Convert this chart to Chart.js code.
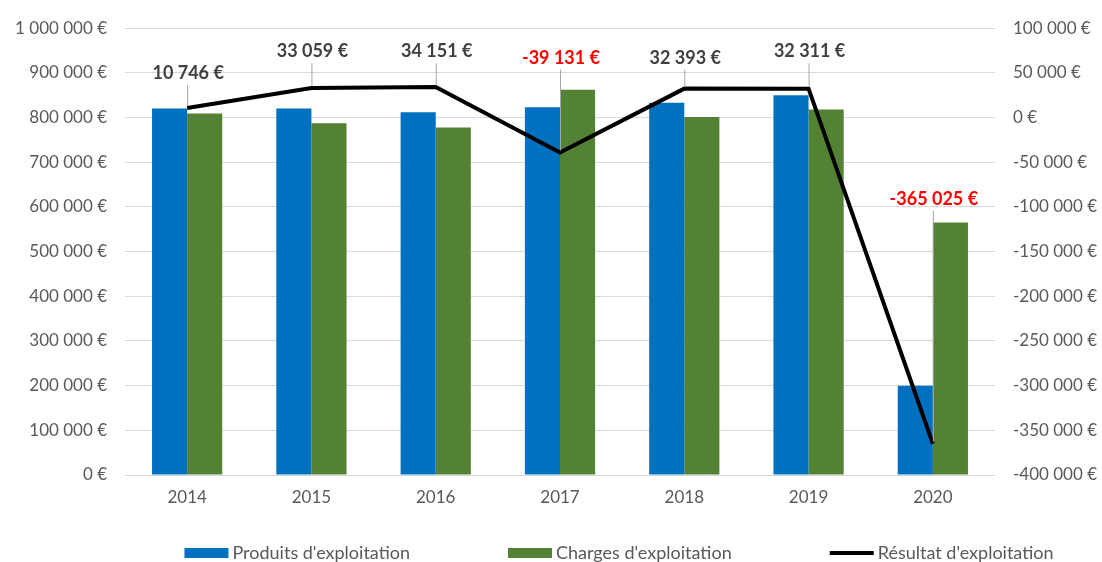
<!DOCTYPE html>
<html>
<head>
<meta charset="utf-8">
<script src="https://cdn.jsdelivr.net/npm/chart.js@4"></script>
<style>
  html, body { margin: 0; padding: 0; background: #fff; }
  #wrap { width: 1102px; height: 562px; }
</style>
</head>
<body>
<div id="wrap"><canvas id="chart" width="1102" height="562"></canvas></div>
<script>
// Data
const years = ["2014", "2015", "2016", "2017", "2018", "2019", "2020"];
const produits = [820000, 820000, 812000, 823000, 833000, 850000, 200000];
const charges = [809000, 787000, 778000, 862000, 801000, 818000, 565000];
const resultat = [10746, 33059, 34151, -39131, 32393, 32311, -365025];
// where each value label sits, in right-axis units
const labelAnchor = [50000, 74000, 74000, 67000, 67000, 74000, -91000];

const FONT = "Lato, 'Liberation Sans', sans-serif";

function euro(v) {
  const s = Math.round(v).toString().replace(/\B(?=(\d{3})+(?!\d))/g, " ");
  return s + " €";
}

// Value labels with leader lines for the result line
const resultLabels = {
  id: "resultLabels",
  afterDatasetsDraw(chart) {
    const ctx = chart.ctx;
    const meta = chart.getDatasetMeta(2);
    const y1 = chart.scales.y1;
    ctx.save();
    ctx.font = "bold 18px " + FONT;
    ctx.textAlign = "center";
    ctx.textBaseline = "middle";
    meta.data.forEach((pt, i) => {
      const ly = y1.getPixelForValue(labelAnchor[i]);
      // leader line
      ctx.strokeStyle = "#a6a6a6";
      ctx.lineWidth = 1;
      ctx.beginPath();
      ctx.moveTo(pt.x + 0.5, ly + 12);
      ctx.lineTo(pt.x + 0.5, pt.y - 2);
      ctx.stroke();
      ctx.fillStyle = resultat[i] < 0 ? "#ff0000" : "#404040";
      ctx.fillText(euro(resultat[i]), pt.x + 1, ly);
    });
    ctx.restore();
  }
};

// Legend spread across the bottom like the spreadsheet one
const bottomLegend = {
  id: "bottomLegend",
  afterDraw(chart) {
    const ctx = chart.ctx;
    const ds = chart.data.datasets;
    const y = 553;
    const gap = 98;
    ctx.save();
    ctx.font = "18px " + FONT;
    ctx.textBaseline = "middle";
    ctx.textAlign = "left";
    const widths = ds.map(d => 44 + 4 + ctx.measureText(d.label).width);
    const total = widths.reduce((a, b) => a + b, 0) + gap * (ds.length - 1);
    let x = 619 - total / 2;
    ds.forEach((d, i) => {
      if (d.type === "line") {
        ctx.strokeStyle = d.borderColor;
        ctx.lineWidth = 4;
        ctx.beginPath();
        ctx.moveTo(x, y);
        ctx.lineTo(x + 44, y);
        ctx.stroke();
      } else {
        ctx.fillStyle = d.backgroundColor;
        ctx.fillRect(x, y - 5, 44, 10);
      }
      ctx.fillStyle = "#595959";
      ctx.fillText(d.label, x + 48, y);
      x += widths[i] + gap;
    });
    ctx.restore();
  }
};

new Chart(document.getElementById("chart"), {
  type: "bar",
  data: {
    labels: years,
    datasets: [
      {
        label: "Produits d'exploitation",
        data: produits,
        backgroundColor: "#0070c0",
        yAxisID: "y",
        order: 1,
        categoryPercentage: 0.565,
        barPercentage: 1
      },
      {
        label: "Charges d'exploitation",
        data: charges,
        backgroundColor: "#548235",
        yAxisID: "y",
        order: 1,
        categoryPercentage: 0.565,
        barPercentage: 1
      },
      {
        type: "line",
        label: "Résultat d'exploitation",
        data: resultat,
        borderColor: "#000000",
        backgroundColor: "#000000",
        borderWidth: 4,
        pointRadius: 0,
        tension: 0,
        yAxisID: "y1",
        order: 0
      }
    ]
  },
  options: {
    responsive: false,
    animation: false,
    layout: { padding: { top: 14, left: 0, right: 0, bottom: 47 } },
    plugins: {
      tooltip: { enabled: false },
      legend: { display: false }
    },
    scales: {
      x: {
        grid: { display: false },
        border: { display: false },
        ticks: { color: "#595959", font: { family: FONT, size: 17 }, padding: 4 },
        afterFit(scale) { scale.height = 40; }
      },
      y: {
        position: "left",
        min: 0,
        max: 1000000,
        ticks: {
          stepSize: 100000,
          color: "#595959",
          font: { family: FONT, size: 17 },
          padding: 18,
          callback: v => euro(v)
        },
        grid: { color: "#d9d9d9", lineWidth: 1, drawTicks: false },
        border: { display: false },
        afterFit(scale) { scale.width = 125; }
      },
      y1: {
        position: "right",
        min: -400000,
        max: 100000,
        ticks: {
          stepSize: 50000,
          color: "#595959",
          font: { family: FONT, size: 17 },
          padding: 18,
          callback: v => euro(v)
        },
        grid: { display: false, drawTicks: false },
        border: { display: false },
        afterFit(scale) { scale.width = 107; }
      }
    }
  },
  plugins: [resultLabels, bottomLegend]
});
</script>
</body>
</html>
